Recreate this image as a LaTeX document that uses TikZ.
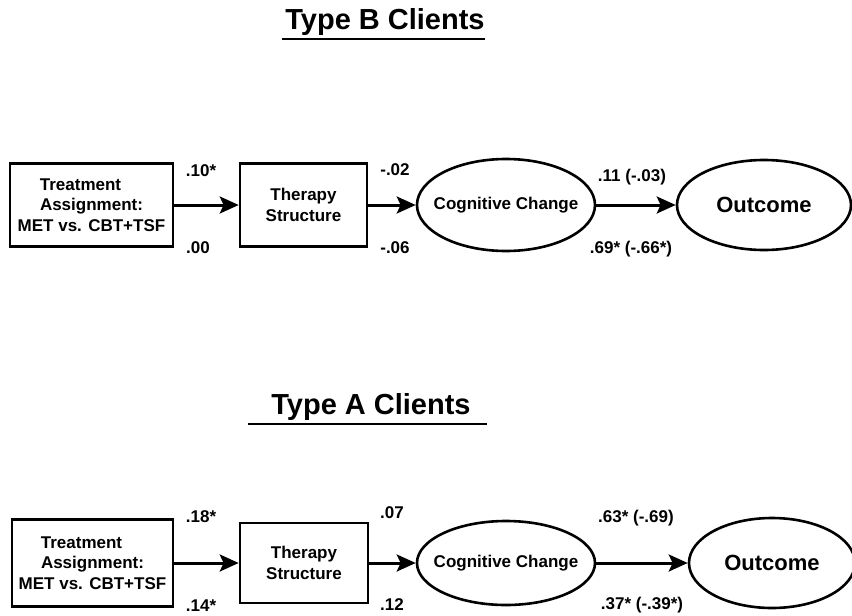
\documentclass[tikz,border=0pt]{standalone}
\usepackage{fontspec}
\setmainfont{Liberation Sans}
\usetikzlibrary{shapes.geometric,arrows.meta}

\begin{document}
\begin{tikzpicture}[x=1pt,y=-1pt,
  every node/.style={font=\bfseries},
  box/.style={draw,line width=2.6pt,rectangle,inner sep=0pt,align=center,
              font=\bfseries\fontsize{17}{20.5}\selectfont},
  oval/.style={draw,line width=2.6pt,ellipse,inner sep=0pt,align=center},
  % the long label may reach close to the rim, so the outline is not grown to fit it
  tight oval/.style={oval,inner xsep=-14pt,font=\bfseries\fontsize{17}{19}\selectfont},
  coef/.style={font=\bfseries\fontsize{17}{19}\selectfont,inner sep=0pt},
  heading/.style={font=\bfseries\fontsize{29}{32}\selectfont,inner sep=0pt},
  path arrow/.style={line width=3pt,-{Stealth[length=19pt,width=17pt,inset=4pt]}},
  rule/.style={line width=2.8pt}]

% page frame
\useasboundingbox (0,0) rectangle (852,616);

% ---------- Type B panel ----------
\node[heading] (titleB) at (385,22) {Type B Clients};
\draw[rule] (282,39) -- (485,39);

\node[box,minimum width=163pt,minimum height=83pt] (tB) at (91.5,205)
  {Treatment\hspace*{22pt}\\Assignment:\hspace*{24pt}\\MET vs. CBT+TSF};
\node[box,minimum width=127pt,minimum height=83pt] (sB) at (303.5,205)
  {Therapy\\Structure};
\node[tight oval,minimum width=178pt,minimum height=92pt] (cB) at (506,205) {Cognitive Change};
\node[oval,minimum width=174pt,minimum height=90pt,
      font=\bfseries\fontsize{22}{25}\selectfont] (oB) at (764,205) {Outcome};

\draw[path arrow] (tB) -- (sB);
\draw[path arrow] (sB) -- (cB);
\draw[path arrow] (cB) -- (oB);

\node[coef] (b1) at (201,171) {.10*};
\node[coef] (b2) at (198,248) {.00};
\node[coef] (b3) at (395,170) {-.02};
\node[coef] (b4) at (395,248) {-.06};
\node[coef] (b5) at (632,177) {.11 (-.03)};
\node[coef] (b6) at (631,249) {.69* (-.66*)};

% ---------- Type A panel ----------
\node[heading] (titleA) at (371,407) {Type A Clients};
\draw[rule] (248,424) -- (487,424);

\node[box,minimum width=161pt,minimum height=87pt] (tA) at (92.5,563)
  {Treatment\hspace*{22pt}\\Assignment:\hspace*{24pt}\\MET vs. CBT+TSF};
\node[box,minimum width=128pt,minimum height=80pt] (sA) at (304,563)
  {Therapy\\Structure};
\node[tight oval,minimum width=178pt,minimum height=84pt] (cA) at (506,563) {Cognitive Change};
\node[oval,minimum width=166pt,minimum height=90pt,
      font=\bfseries\fontsize{22}{25}\selectfont] (oA) at (772,563) {Outcome};

\draw[path arrow] (tA) -- (sA);
\draw[path arrow] (sA) -- (cA);
\draw[path arrow] (cA) -- (oA);

\node[coef] (a1) at (201,517) {.18*};
\node[coef] (a2) at (201,606) {.14*};
\node[coef] (a3) at (392,513) {.07};
\node[coef] (a4) at (392,605) {.12};
\node[coef] (a5) at (636,518) {.63* (-.69)};
\node[coef] (a6) at (642,605) {.37* (-.39*)};
\end{tikzpicture}
\end{document}
